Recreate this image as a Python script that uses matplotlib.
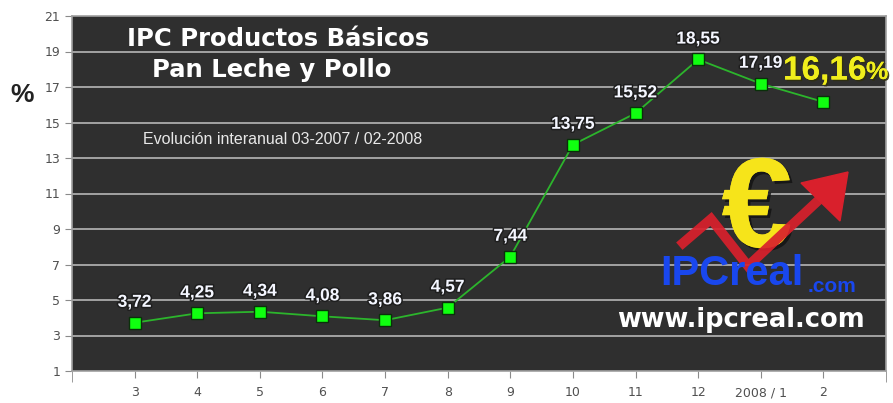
import matplotlib
matplotlib.use("Agg")
import matplotlib.pyplot as plt
import matplotlib.patheffects as pe
from matplotlib import font_manager
import numpy as np

categories = ["3", "4", "5", "6", "7", "8", "9", "10", "11", "12", "2008 / 1", "2"]
values = [3.72, 4.25, 4.34, 4.08, 3.86, 4.57, 7.44, 13.75, 15.52, 18.55, 17.19, 16.16]
labels = ["3,72", "4,25", "4,34", "4,08", "3,86", "4,57", "7,44", "13,75", "15,52", "18,55", "17,19", ""]
highlight = "16,16"
yticks = list(range(1, 22, 2))

# narrow font if available
try:
    font_manager.findfont(font_manager.FontProperties(family="Liberation Sans Narrow"),
                          fallback_to_default=False)
    NARROW = "Liberation Sans Narrow"
except Exception:
    NARROW = None

W, H = 893, 403
fig = plt.figure(figsize=(W/100, H/100), dpi=100)
fig.patch.set_facecolor("white")
ax = fig.add_axes([72/W, 1-371/H, (886-72)/W, (371-16)/H])
ax.set_facecolor("#2f2f2f")

x = np.arange(1, len(values) + 1)
ax.set_xlim(0, len(values) + 1)
ax.set_ylim(1, 21)

for y in yticks[1:-1]:
    ax.axhline(y, color="#a3a3a3", lw=1.4, zorder=1)

ax.plot(x, values, color="#2cb52c", lw=1.3, zorder=3)
ax.plot(x, values, ls="none", marker="s", ms=9, mfc="#10ff10", mec="#0a300a", mew=1, zorder=4)

outline = [pe.withStroke(linewidth=2.2, foreground="#1e1e1e")]
for xi, v, lab in zip(x, values, labels):
    if lab:
        ax.text(xi, v + 1.15, lab, ha="center", va="center", color="#f4f6ff",
                fontsize=12.5, fontweight="bold", family="Liberation Sans",
                path_effects=outline, zorder=5)

def px(xp, yp):
    return (xp / W, 1 - yp / H)

yel = "#f0ee1c"
shadow = [pe.withSimplePatchShadow(offset=(1.2, -1.2), shadow_rgbFace="#303010", alpha=0.9), pe.Normal()]
if NARROW:
    fig.text(*px(783, 71), highlight, ha="left", va="center", color=yel, fontsize=28,
             fontweight="bold", family=NARROW, path_effects=shadow, zorder=6)
    fig.text(*px(868, 73), "%", ha="left", va="center", color=yel, fontsize=20,
             fontweight="bold", family=NARROW, path_effects=shadow, zorder=6)
else:
    fig.text(*px(783, 71), highlight, ha="left", va="center", color=yel, fontsize=24,
             fontweight="bold", family="Liberation Sans", path_effects=shadow, zorder=6)
    fig.text(*px(866, 72), "%", ha="left", va="center", color=yel, fontsize=18,
             fontweight="bold", family="Liberation Sans", path_effects=shadow, zorder=6)

ax.set_yticks(yticks)
ax.set_xticks(x)
ax.set_xticklabels(categories)
ax.set_xticks([0, len(values) + 1], minor=True)
ax.tick_params(axis="both", colors="#8a8a8a", labelcolor="#505050", labelsize=9, length=5)
ax.tick_params(axis="x", which="minor", length=8, color="#8a8a8a")
ax.tick_params(axis="x", pad=6)
for s in ["top", "right", "left", "bottom"]:
    ax.spines[s].set_color("#a0a0a0")
    ax.spines[s].set_linewidth(1.2)

# titles
fig.text(*px(278, 39), "IPC Productos Básicos", ha="center", va="center",
         color="white", fontsize=17.5, fontweight="bold", family="DejaVu Sans")
fig.text(*px(272, 70), "Pan Leche y Pollo", ha="center", va="center",
         color="white", fontsize=17.5, fontweight="bold", family="DejaVu Sans")
fig.text(*px(283, 139), "Evolución interanual 03-2007 / 02-2008", ha="center", va="center",
         color="#e8e8e8", fontsize=11.5, family=NARROW or "Liberation Sans")
fig.text(*px(22, 95), "%", ha="center", va="center", color="#222222",
         fontsize=19, fontweight="bold", family="Liberation Sans")

# logo
red = "#d9202c"
fig.lines.append(plt.Line2D([683/W, 711/W, 748/W, 822/W], [1-243/H, 1-219/H, 1-266/H, 1-197/H],
                            transform=fig.transFigure, color=red, lw=7, alpha=0.92,
                            solid_joinstyle="miter", zorder=6))
fig.patches.append(plt.Polygon([[848/W, 1-172/H], [801/W, 1-183/H], [840/W, 1-221/H]],
                               closed=True, transform=fig.transFigure, color=red, zorder=6))
fig.text(*px(757, 214), "€", ha="center", va="center", color="#f6e41a",
         fontsize=92, fontweight="bold", family="Liberation Sans", zorder=5,
         path_effects=[pe.withSimplePatchShadow(offset=(2, -2), shadow_rgbFace="#111111", alpha=0.8), pe.Normal()])
blue = "#1947ee"
if NARROW:
    fig.text(*px(660, 274), "IPCreal", ha="left", va="center", color=blue,
             fontsize=42, fontweight="bold", family=NARROW, zorder=8)
    fig.text(*px(810, 286), ".com", ha="left", va="center", color=blue,
             fontsize=18, family=NARROW, zorder=8)
else:
    fig.text(*px(660, 274), "IPCreal", ha="left", va="center", color=blue,
             fontsize=30, fontweight="bold", family="Liberation Sans", zorder=8)
    fig.text(*px(808, 286), ".com", ha="left", va="center", color=blue,
             fontsize=15, fontweight="bold", family="Liberation Sans", zorder=8)
fig.text(*px(741, 320), "www.ipcreal.com", ha="center", va="center", color="white",
         fontsize=18.5, fontweight="bold", family="DejaVu Sans", zorder=8)

fig.savefig("out.png", dpi=100)
